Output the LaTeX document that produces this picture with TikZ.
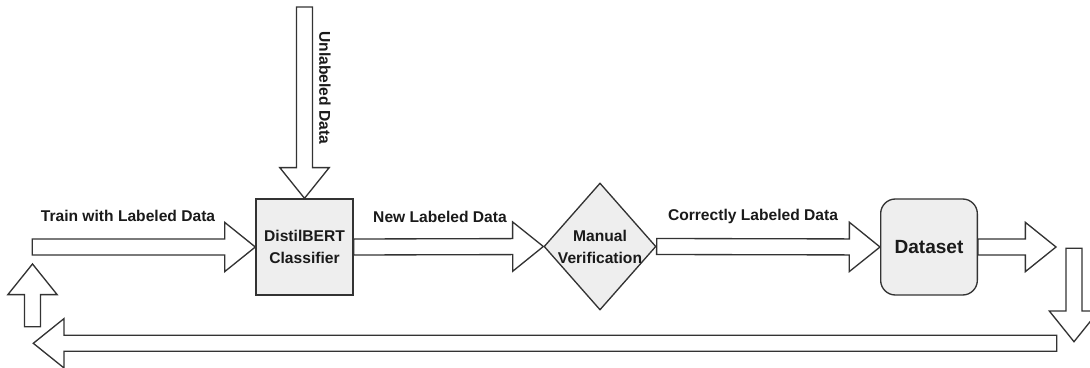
\documentclass[tikz,border=0pt]{standalone}
\usepackage{fontspec}
\setmainfont{Liberation Sans}
\usetikzlibrary{shapes.geometric,calc}

\definecolor{linegray}{HTML}{333333}
\definecolor{boxgray}{HTML}{EEEEEE}
\definecolor{txtgray}{HTML}{1A1A1A}

% half shaft width, half head width, head length of the block arrows
\newcommand\arrsw{6pt}
\newcommand\arrhw{18.5pt}
\newcommand\arrhl{23pt}
% block arrow from #1 to #2
\newcommand\fatarrow[2]{%
  \draw[fatline] let \p1=#1, \p2=#2,
      \n1={atan2(\y2-\y1,\x2-\x1)}, \n2={veclen(\x2-\x1,\y2-\y1)} in
    [shift={(\p1)}, rotate=\n1]
    (0pt,\arrsw) -- (\n2-\arrhl,\arrsw) -- (\n2-\arrhl,\arrhw) -- (\n2,0pt)
    -- (\n2-\arrhl,-\arrhw) -- (\n2-\arrhl,-\arrsw) -- (0pt,-\arrsw) -- cycle;
}

\tikzset{
  fatline/.style={draw=linegray, fill=white, line width=1pt, line join=miter},
  lbl/.style={font=\fontsize{11.7}{16.5}\selectfont\bfseries, text=txtgray, inner sep=0pt},
  procbox/.style={lbl, draw=linegray, fill=boxgray, line width=1pt, align=center,
    minimum width=72.75pt, minimum height=72pt},
  checkbox/.style={diamond, draw=linegray, fill=boxgray, line width=1pt, inner sep=0pt,
    minimum width=84pt, minimum height=95.25pt},
  storebox/.style={procbox, rounded corners=11pt, font=\fontsize{14.3}{17}\selectfont\bfseries,
    minimum width=72.5pt}
}

\begin{document}
\begin{tikzpicture}[x=0.75pt,y=0.75pt]
\useasboundingbox (0,0) rectangle (1090,368);

\node[procbox] (clf) at (304.5,121) {DistilBERT\\Classifier};
\node[checkbox, label={[lbl, align=center]center:Manual\\Verification}] (verif) at (600,121.5) {};
\node[storebox] (data) at (929,121) {Dataset};

\coordinate (trainstart) at (32.3,121);
\coordinate (unlstart) at (304.5,361);
\coordinate (outtip) at (1056,121);
\coordinate (downstart) at (1074,119.7);
\coordinate (downtip) at (1074,26.3);
\coordinate (loopstart) at (1056.7,24.7);
\coordinate (looptip) at (33.3,24.7);
\coordinate (upstart) at (32.5,41.3);
\coordinate (uptip) at (32.5,104);

\fatarrow{(trainstart)}{(clf.west)}
\fatarrow{(unlstart)}{(clf.north)}
\fatarrow{(clf.east)}{(verif.west)}
\fatarrow{(verif.east)}{(data.west)}
\fatarrow{(data.east)}{(outtip)}
\fatarrow{(downstart)}{(downtip)}
\fatarrow{(loopstart)}{(looptip)}
\fatarrow{(upstart)}{(uptip)}

\node[lbl] (trainlbl) at (128,152) {Train with Labeled Data};
\node[lbl] (newlbl) at (440,151.3) {New Labeled Data};
\node[lbl] (corrlbl) at (753,152) {Correctly Labeled Data};
\node[lbl, rotate=-90] (unllbl) at (325,280) {Unlabeled Data};
\end{tikzpicture}
\end{document}
